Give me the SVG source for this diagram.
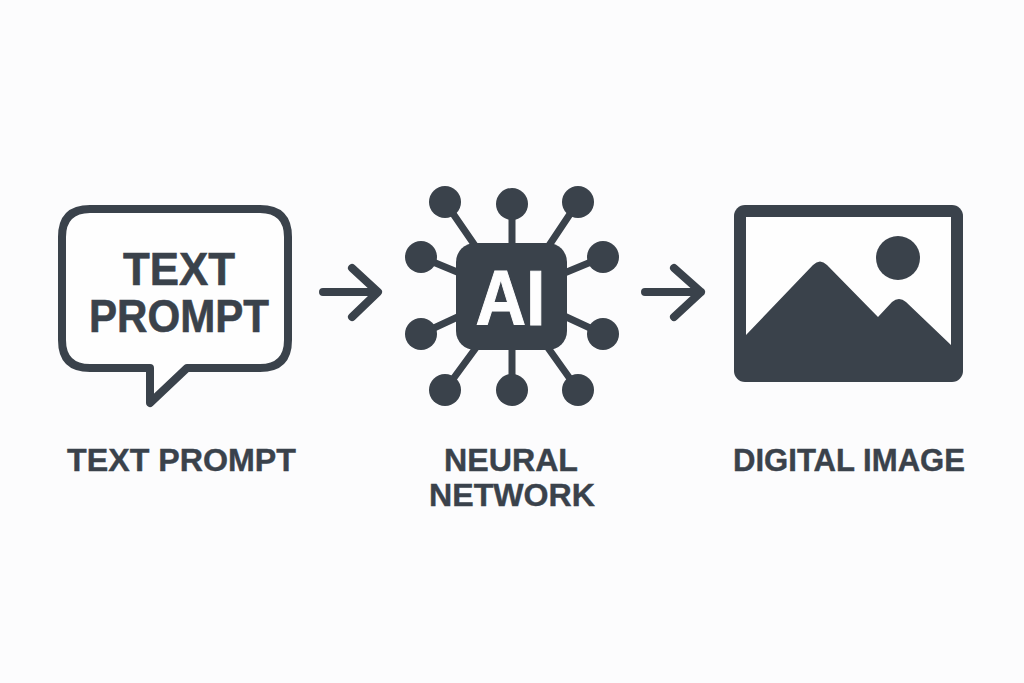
<svg xmlns="http://www.w3.org/2000/svg" width="1024" height="683" viewBox="0 0 1024 683">
<style>
text{font-family:"Liberation Sans",Arial,sans-serif;font-weight:700;fill:#3a424b;text-anchor:middle}
.big{font-size:46px;stroke:#3a424b;stroke-width:.6px}
.lab{font-size:32px;stroke:#3a424b;stroke-width:.4px}
.ln{fill:none;stroke:#3a424b;stroke-width:8;stroke-linecap:round;stroke-linejoin:round}
.dk{fill:#3a424b}
.sp{stroke:#3a424b;stroke-width:7;fill:none}
</style>
<rect width="1024" height="683" fill="#fcfcfd"/>
<g id="text-prompt">
<path d="M90 209H260Q288 209 288 237V340Q288 368 260 368H187L150 403V368H90Q62 368 62 340V237Q62 209 90 209Z" fill="#fefefe" stroke="#3a424b" stroke-width="8" stroke-linejoin="round"/>
<text class="big" x="179" y="285" textLength="112" lengthAdjust="spacingAndGlyphs">TEXT</text>
<text class="big" x="179" y="332" textLength="180" lengthAdjust="spacingAndGlyphs">PROMPT</text>
<text class="lab" x="181.500" y="471" textLength="229" lengthAdjust="spacingAndGlyphs">TEXT PROMPT</text>
</g>
<g id="neural-network">
<path class="sp" d="M445 202L478 250M512 204V250M578 202L546 250M421 257L462 274M603 257L562 274M421 334L462 315M603 334L562 315M445 390L478 345M512 390V345M578 390L546 345"/>
<circle class="dk" cx="445" cy="202" r="16"/><circle class="dk" cx="512" cy="204" r="16"/><circle class="dk" cx="578" cy="202" r="16"/>
<circle class="dk" cx="421" cy="257" r="16"/><circle class="dk" cx="603" cy="257" r="16"/>
<circle class="dk" cx="421" cy="334" r="16"/><circle class="dk" cx="603" cy="334" r="16"/>
<circle class="dk" cx="445" cy="390" r="16"/><circle class="dk" cx="512" cy="390" r="16"/><circle class="dk" cx="578" cy="390" r="16"/>
<rect class="dk" x="456" y="243" width="111" height="107" rx="19"/>
<text x="510.500" y="325" font-size="77" textLength="70" lengthAdjust="spacingAndGlyphs" style="fill:#fefefe;stroke:#fefefe;stroke-width:1px">AI</text>
<text class="lab" x="511" y="471" textLength="134" lengthAdjust="spacingAndGlyphs">NEURAL</text>
<text class="lab" x="512" y="506" textLength="166" lengthAdjust="spacingAndGlyphs">NETWORK</text>
</g>
<g id="digital-image">
<rect class="dk" x="734" y="205" width="229" height="177" rx="11"/>
<path d="M746 217H951V345L906 302Q899 296 892 302L878 317L827 265Q820 258 813 265L746 335Z" fill="#fefefe"/>
<circle class="dk" cx="898" cy="258" r="22"/>
<text class="lab" x="849" y="471" textLength="232" lengthAdjust="spacingAndGlyphs">DIGITAL IMAGE</text>
</g>
<g id="connectors">
<path class="ln" d="M323 292H377M352 268L378 292L352 317"/>
<path class="ln" d="M645 292H701M674 268L701 292L674 317"/>
</g>
</svg>
